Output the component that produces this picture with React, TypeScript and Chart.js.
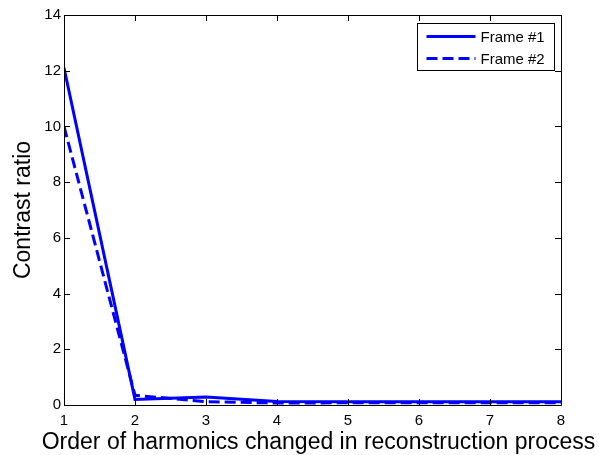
import React, { useEffect, useRef } from "react";
import { Chart, registerables } from "chart.js";

Chart.register(...registerables);

const harmonics = [1, 2, 3, 4, 5, 6, 7, 8];
const frame1 = [12.1, 0.2, 0.29, 0.13, 0.12, 0.12, 0.12, 0.12];
const frame2 = [10.0, 0.35, 0.12, 0.07, 0.08, 0.08, 0.08, 0.08];
const seriesLabels = ["Frame #1", "Frame #2"];
const xTitle = "Order of harmonics changed in reconstruction process";
const yTitle = "Contrast ratio";

const FONT = "'Liberation Sans', Arial, sans-serif";
const BLUE = "#0000FF";

const boxPlugin = {
  id: "matlabBox",
  afterDatasetsDraw(chart: any) {
    const { ctx, chartArea } = chart;
    const { left, right, top, bottom } = chartArea;
    const xs = chart.scales.x;
    const ys = chart.scales.y;
    const tl = 6;
    ctx.save();
    ctx.strokeStyle = "#000";
    ctx.lineWidth = 1;
    ctx.beginPath();
    ctx.rect(Math.round(left) + 0.5, Math.round(top) + 0.5, Math.round(right - left), Math.round(bottom - top));
    xs.ticks.forEach((t: any) => {
      const px = Math.round(xs.getPixelForValue(t.value)) + 0.5;
      ctx.moveTo(px, bottom);
      ctx.lineTo(px, bottom - tl);
      ctx.moveTo(px, top);
      ctx.lineTo(px, top + tl);
    });
    ys.ticks.forEach((t: any) => {
      const py = Math.round(ys.getPixelForValue(t.value)) + 0.5;
      ctx.moveTo(left, py);
      ctx.lineTo(left + tl, py);
      ctx.moveTo(right, py);
      ctx.lineTo(right - tl, py);
    });
    ctx.stroke();

    // legend inside axes, upper right
    const bw = 137;
    const bh = 47;
    const bx = Math.round(right - 7 - bw) + 0.5;
    const by = Math.round(top + 8) + 0.5;
    ctx.fillStyle = "#fff";
    ctx.fillRect(bx, by, bw, bh);
    ctx.strokeStyle = "#000";
    ctx.strokeRect(bx, by, bw, bh);
    ctx.font = `15px ${FONT}`;
    ctx.textBaseline = "middle";
    ctx.textAlign = "left";
    chart.data.datasets.forEach((ds: any, i: number) => {
      const cy = by + 13 + i * 22;
      ctx.save();
      ctx.strokeStyle = ds.borderColor;
      ctx.lineWidth = ds.borderWidth;
      ctx.setLineDash(ds.borderDash || []);
      ctx.beginPath();
      ctx.moveTo(bx + 9, cy);
      ctx.lineTo(bx + 58, cy);
      ctx.stroke();
      ctx.restore();
      ctx.fillStyle = "#000";
      ctx.fillText(ds.label, bx + 63, cy + 1);
    });

    // x-axis title (wider than the plot area, as in the original)
    ctx.font = `23px ${FONT}`;
    ctx.fillStyle = "#000";
    ctx.textAlign = "center";
    ctx.textBaseline = "alphabetic";
    ctx.fillText(xTitle, (left + right) / 2 + 6, 449);
    ctx.restore();
  },
};

export default function App() {
  const ref = useRef<HTMLCanvasElement | null>(null);
  useEffect(() => {
    if (!ref.current) return;
    const chart = new Chart(ref.current, {
      type: "line",
      data: {
        datasets: [
          {
            label: seriesLabels[0],
            data: harmonics.map((h, i) => ({ x: h, y: frame1[i] })),
            borderColor: BLUE,
            backgroundColor: BLUE,
            borderWidth: 3,
            pointRadius: 0,
            tension: 0,
            fill: false,
          },
          {
            label: seriesLabels[1],
            data: harmonics.map((h, i) => ({ x: h, y: frame2[i] })),
            borderColor: BLUE,
            backgroundColor: BLUE,
            borderWidth: 3,
            borderDash: [11, 5],
            pointRadius: 0,
            tension: 0,
            fill: false,
          },
        ],
      },
      options: {
        responsive: false,
        animation: false,
        layout: { padding: { left: 0, right: 38, top: 15, bottom: 0 } },
        plugins: {
          legend: { display: false },
          tooltip: { enabled: false },
        },
        scales: {
          x: {
            type: "linear",
            min: 1,
            max: 8,
            grid: { display: false, drawTicks: false },
            border: { display: false },
            ticks: {
              stepSize: 1,
              padding: 7,
              color: "#000",
              font: { family: FONT, size: 15 },
              maxRotation: 0,
            },
            title: { display: false, text: xTitle },
            afterFit: (s: any) => {
              s.height = 50;
            },
          },
          y: {
            min: 0,
            max: 14,
            grid: { display: false, drawTicks: false },
            border: { display: false },
            ticks: {
              stepSize: 2,
              padding: 3,
              color: "#000",
              font: { family: FONT, size: 15 },
            },
            title: {
              display: true,
              text: yTitle,
              color: "#000",
              font: { family: FONT, size: 23 },
              padding: { top: 10, bottom: 0 },
            },
            afterFit: (s: any) => {
              s.width = 64;
            },
          },
        },
      },
      plugins: [boxPlugin],
    });
    return () => chart.destroy();
  }, []);
  return (
    <div style={{ position: "absolute", left: 0, top: 0, width: 599, height: 455, background: "#fff" }}>
      <canvas ref={ref} width={599} height={455} />
    </div>
  );
}
